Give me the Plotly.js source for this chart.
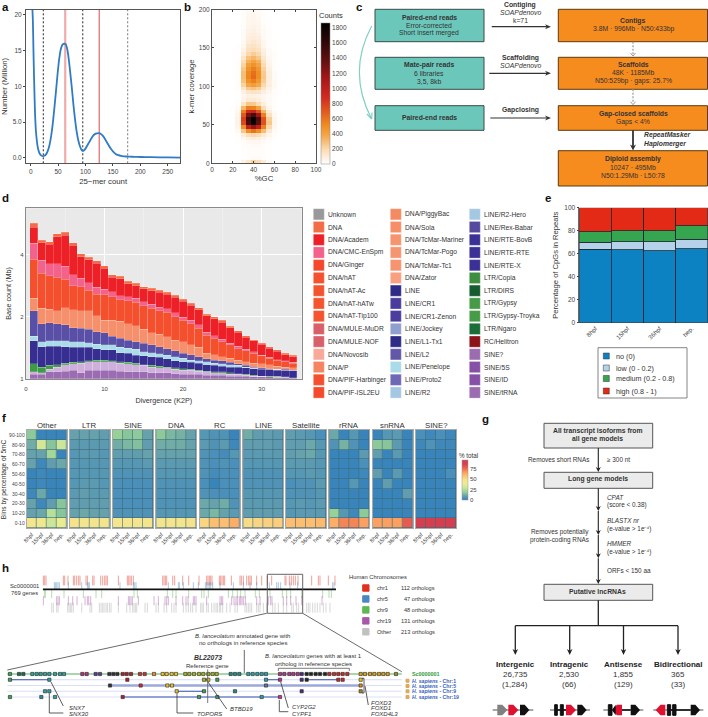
<!DOCTYPE html>
<html><head><meta charset="utf-8"><title>Genome assembly figure</title>
<script src="https://cdn.plot.ly/plotly-3.0.1.min.js"></script>
<style>html,body{margin:0;padding:0;background:#fff}#plot{width:708px;height:717px}</style></head>
<body><div id="plot"></div>
<script>
/* ---------- panel a ---------- */
const kmerCount=[3,4,5,6,7,8,9,10,12,14,16,18,20,22,25,28,31,34,37,40,43,46,49,52,55,58,60,62,63,64,66,68,70,72,75,78,81,84,87,90,93,95,97,100,103,106,109,112,115,118,121,124,126,128,131,134,137,140,143,146,150,155,160,165,170,175,180,190,200,220,250,280];
const kmerNumber=[20.9,19,15,11.5,8.5,6,4.4,3.3,1.9,1.1,0.65,0.42,0.3,0.25,0.3,0.5,0.95,1.7,2.9,4.6,6.8,9.2,11.7,13.8,15.2,15.8,15.9,15.95,15.9,15.85,15.4,14.6,13.4,12,9.8,7.4,5.3,3.6,2.4,1.6,1.1,1.0,1.05,1.3,1.7,2.1,2.5,2.9,3.2,3.35,3.42,3.45,3.42,3.35,3.15,2.85,2.45,2.05,1.65,1.3,0.9,0.55,0.38,0.28,0.23,0.2,0.18,0.15,0.13,0.1,0.07,0.05];
const kmerCutoffs=[23,95,177];
const kmerPeaks=[63,125];
/* ---------- panel b ---------- */
const gcBins=[20,25,30,35,40,45,50,55,60,65,70];
const covBins=[2.5,7.5,12.5,17.5,22.5,27.5,32.5,37.5,42.5,47.5,52.5,57.5,62.5,67.5,72.5,77.5,82.5,87.5,92.5,97.5,102.5,107.5,112.5,117.5,122.5,127.5,132.5,137.5,142.5,147.5,152.5,157.5,162.5,167.5,172.5,177.5,182.5,187.5,192.5,197.5];
const gcCounts=[
[0,5,60,120,220,180,100,30,5,0,0],[0,0,5,15,20,20,10,5,0,0,0],[0,0,5,10,15,15,10,5,2,0,0],[0,0,5,10,15,15,8,3,0,0,0],
[0,2,8,15,20,20,15,5,0,0,0],[0,3,15,30,40,40,25,10,2,0,0],[0,5,40,70,80,70,50,20,5,0,0],[0,12,90,170,200,170,110,50,10,2,0],
[0,30,260,500,600,500,300,110,25,3,0],[0,50,500,1000,1200,1000,560,200,40,5,0],[0,60,760,1500,1800,1400,730,260,45,8,0],[0,60,800,1550,1850,1450,720,240,45,8,0],
[0,50,700,1300,1500,1150,560,160,35,5,0],[0,35,550,900,950,720,320,90,20,3,0],[0,20,320,560,540,400,170,50,12,2,0],[0,8,140,260,250,180,80,30,8,0,0],
[0,3,60,110,110,90,50,25,8,2,0],[0,3,40,70,70,60,40,25,10,2,0],[0,5,70,130,150,130,80,40,15,3,0],[0,10,130,250,280,240,130,60,25,5,0],
[0,12,220,380,430,370,200,80,30,5,0],[0,15,280,480,550,450,240,85,30,5,0],[0,15,300,530,640,500,260,90,25,5,0],[0,15,300,520,620,500,250,80,20,3,0],
[0,12,260,480,560,460,220,70,15,2,0],[0,10,220,420,480,400,190,55,15,0,0],[0,8,180,340,400,340,150,45,10,0,0],[0,5,130,280,320,260,120,35,10,0,0],
[0,5,90,200,240,200,90,25,8,0,0],[0,3,60,160,180,150,70,20,5,0,0],[0,3,40,130,150,120,50,15,5,0,0],[0,2,30,100,120,100,40,12,3,0,0],
[0,2,25,80,100,80,30,10,2,0,0],[0,0,20,70,85,65,25,10,2,0,0],[0,0,20,60,70,55,20,8,0,0,0],[0,0,15,50,60,45,20,5,0,0,0],
[0,0,15,40,50,40,15,5,0,0,0],[0,0,12,40,45,35,12,3,0,0,0],[0,0,10,35,40,30,10,2,0,0,0],[0,0,10,30,35,25,10,0,0,0,0]];
/* ---------- panel d: cumulative stack tops in Mb ---------- */
const divergence=[1,2,3,4,5,6,7,8,9,10,11,12,13,14,15,16,17,18,19,20,21,22,23,24,25,26,27,28,29,30,31,32,33,34];
const topSineDark=[1.05,1.05,1.08,1.08,1.09,1.10,1.07,1.10,1.10,1.10,1.10,1.09,1.08,1.08,1.08,1.07,1.07,1.07,1.06,1.05,1.05,1.05,1.04,1.04,1.04,1.03,1.03,1.03,1.02,1.02,1.02,1.01,1.01,1.005];
const topSineLight=[1.08,1.07,1.11,1.14,1.17,1.18,1.19,1.21,1.21,1.21,1.21,1.19,1.18,1.17,1.16,1.14,1.13,1.13,1.11,1.10,1.10,1.09,1.08,1.07,1.07,1.05,1.05,1.04,1.03,1.03,1.02,1.02,1.02,1.01];
const topLtr=[1.18,1.14,1.16,1.17,1.19,1.20,1.21,1.22,1.23,1.23,1.22,1.21,1.20,1.19,1.17,1.16,1.15,1.14,1.13,1.12,1.11,1.10,1.09,1.08,1.08,1.07,1.06,1.05,1.04,1.03,1.03,1.03,1.02,1.01];
const topLineDark=[1.53,1.43,1.44,1.44,1.43,1.42,1.42,1.42,1.40,1.38,1.38,1.34,1.33,1.30,1.29,1.28,1.27,1.25,1.22,1.21,1.20,1.19,1.17,1.16,1.15,1.14,1.14,1.13,1.12,1.11,1.11,1.10,1.10,1.10];
const topPenelope=[1.61,1.51,1.53,1.53,1.53,1.51,1.51,1.50,1.47,1.46,1.46,1.42,1.41,1.39,1.35,1.34,1.32,1.30,1.28,1.26,1.23,1.22,1.21,1.19,1.18,1.17,1.16,1.14,1.13,1.12,1.11,1.11,1.10,1.10];
const topLineMid=[2.14,1.85,1.87,1.85,1.83,1.77,1.76,1.74,1.69,1.67,1.61,1.57,1.54,1.51,1.49,1.46,1.43,1.40,1.37,1.33,1.31,1.28,1.25,1.23,1.22,1.20,1.18,1.16,1.14,1.13,1.12,1.11,1.11,1.10];
const topTcMar=[2.46,2.20,2.18,2.14,2.22,2.16,2.14,2.14,2.02,1.93,1.92,1.90,1.85,1.81,1.74,1.67,1.65,1.60,1.54,1.51,1.46,1.42,1.33,1.31,1.28,1.26,1.23,1.21,1.19,1.18,1.17,1.15,1.14,1.13];
const topHat=[3.81,3.26,3.17,3.12,3.05,2.83,2.81,2.70,2.58,2.56,2.51,2.42,2.39,2.35,2.27,2.20,2.14,2.10,2.00,1.92,1.85,1.76,1.63,1.57,1.51,1.46,1.40,1.37,1.33,1.29,1.26,1.23,1.21,1.19];
const topCmc=[4.56,3.78,3.62,3.62,3.53,3.20,3.08,2.93,2.78,2.72,2.65,2.54,2.50,2.46,2.37,2.30,2.23,2.19,2.09,1.99,1.92,1.83,1.68,1.62,1.56,1.49,1.44,1.39,1.35,1.30,1.27,1.24,1.22,1.20];
const topAcadem=[5.45,4.58,4.50,4.90,5.00,4.45,3.93,3.80,3.64,3.45,3.12,3.07,2.90,2.84,2.74,2.68,2.64,2.57,2.49,2.38,2.28,2.17,2.02,1.96,1.88,1.77,1.68,1.59,1.53,1.47,1.41,1.36,1.31,1.28];
const topDna=[5.71,4.73,4.65,5.07,5.16,4.59,4.05,3.90,3.74,3.54,3.20,3.15,2.98,2.91,2.81,2.75,2.70,2.63,2.55,2.43,2.33,2.22,2.06,2.00,1.92,1.80,1.71,1.62,1.55,1.49,1.43,1.38,1.33,1.30];
const repeatGroups=['SINE/5S','SINE/ID','LTR/Gypsy','LINE/CR1','LINE/Penelope','LINE/L2','DNA/TcMar-Tc1','DNA/hAT','DNA/CMC-EnSpm','DNA/Academ','DNA'];
const repeatClasses=['Unknown','DNA','DNA/Academ','DNA/CMC-EnSpm','DNA/Ginger','DNA/hAT','DNA/hAT-Ac','DNA/hAT-hATw','DNA/hAT-Tip100','DNA/MULE-MuDR','DNA/MULE-NOF','DNA/Novosib','DNA/P','DNA/PIF-Harbinger','DNA/PIF-ISL2EU','DNA/PiggyBac','DNA/Sola','DNA/TcMar-Mariner','DNA/TcMar-Pogo','DNA/TcMar-Tc1','DNA/Zator','LINE','LINE/CR1','LINE/CR1-Zenon','LINE/Jockey','LINE/L1-Tx1','LINE/L2','LINE/Penelope','LINE/Proto2','LINE/R2','LINE/R2-Hero','LINE/Rex-Babar','LINE/RTE-BovB','LINE/RTE-RTE','LINE/RTE-X','LTR/Copia','LTR/DIRS','LTR/Gypsy','LTR/Gypsy-Troyka','LTR/Ngaro','RC/Helitron','SINE?','SINE/5S','SINE/ID','SINE/tRNA'];
const repeatColors=['#999999','#f46c45','#ee2027','#f2628a','#f4472c','#f4522f','#f4532f','#f4552f','#f4552f','#d8606a','#d8606a','#f8a99a','#f58560','#f44f2e','#f4492c','#f58a62','#f68f68','#f69470','#f69470','#f69470','#f8a080','#2d2b85','#4b3d9e','#4b3d9e','#8f9fd0','#2d2b85','#6358a8','#aadbe8','#6f68b4','#a5c8e2','#a5c8e2','#5549a0','#3a3095','#3a3095','#3a3095','#3e8e41','#165c2e','#469c46','#469c46','#1c6e38','#8c1418','#9b6cb0','#8650a6','#8650a6','#9b6cb0'];
/* ---------- panel e ---------- */
const stages=['8hpf','15hpf','36hpf','hep.'];
const cpgNo=[64,63.5,62.5,64.5];
const cpgLow=[6,7,8,8];
const cpgMedium=[9,9.5,9.5,12];
const cpgHigh=[21,20,20,15.5];
const cpgLegend=['no (0)','low (0 - 0.2)','medium (0.2 - 0.8)','high (0.8 - 1)'];
const cpgColors=['#0c82c3','#b6d2ea','#35a550','#e32a17'];
/* ---------- panel f ---------- */
const bins5mC=['0-10','10-20','20-30','30-40','40-50','50-60','60-70','70-80','80-90','90-100'];
const facetNames=['Other','LTR','SINE','DNA','RC','LINE','Satellite','rRNA','snRNA','SINE?'];
const fOther=[[45,42,30,38],[10,11,26,17],[10,3,9,17],[3,11,2,2],[2,3,2,2],[2,3,2,2],[10,3,9,11],[10,10,22,2],[12,32,17,30],[18,2,2,2]];
const fLtr=[[48,47,47,47],[10,11,10,10],[9,9,9,9],[8,9,8,8],[7,8,8,7],[7,7,7,7],[7,7,7,7],[7,8,8,7],[8,8,8,8],[10,10,10,9]];
const fSine=[[46,46,46,47],[6,6,6,6],[5,5,5,5],[5,5,5,5],[5,5,5,5],[6,6,6,6],[7,7,7,8],[9,9,9,10],[12,14,16,9],[20,17,18,10]];
const fDna=[[47,47,47,48],[7,7,7,7],[6,6,6,6],[6,6,6,6],[6,6,6,6],[7,7,7,7],[8,8,8,8],[10,10,10,10],[12,12,12,10],[18,14,13,10]];
const fRc=[[52,58,58,62],[11,14,10,8],[11,10,12,6],[6,5,5,5],[5,2,5,5],[6,4,5,5],[6,5,6,5],[6,5,4,7],[8,6,8,3],[7,6,6,2]];
const fLine=[[50,52,53,54],[9,9,9,9],[8,8,8,8],[7,7,7,7],[6,6,6,6],[6,6,6,6],[7,7,7,7],[8,8,8,8],[9,9,9,8],[12,9,9,8]];
const fSatellite=[[58,58,58,59],[7,8,8,8],[7,8,7,8],[6,6,6,7],[5,6,6,8],[7,7,8,7],[8,8,8,7],[9,10,11,7],[9,9,11,7],[9,8,7,5]];
const fRrna=[[62,70,70,65],[20,7,3,18],[2,2,2,2],[2,2,2,2],[2,2,7,2],[2,2,2,3],[2,2,2,5],[2,2,2,8],[6,13,6,2],[11,2,7,2]];
const fSnrna=[[65,65,65,78],[2,2,2,2],[2,2,2,2],[2,2,2,9],[2,9,2,2],[9,2,8,2],[2,2,2,2],[9,2,8,2],[18,17,8,2],[2,7,8,2]];
const fSineQ=[[88,88,88,88],[2,2,2,2],[2,2,2,2],[2,2,2,2],[2,2,2,2],[2,2,2,5],[2,2,2,2],[2,2,2,2],[3,6,3,3],[5,3,5,3]];
const facetValues=[fOther,fLtr,fSine,fDna,fRc,fLine,fSatellite,fRrna,fSnrna,fSineQ];
/* ---------- panel h ---------- */
const rugChr1=[40,44,48,100,104,114,130,134,140,146,150,168,172,188,192,212,218,224,228,232,265,292,296,300,304,310,398,402,406,410,428,434,458,476,507,530,534,538,542,546,568,572,576,580,584,604,630,634,640,650,656,660,664,680,695,712,725,765,768,778,784,790,796,804,845,865,870,895,915];
const rugChr5=[73,76,80,84,88,115,155,172,175,178,270,310,314,318,415,445,448,460,490,505,526,530,534,538,542,548,570,610,640,660,680,718,740,745,752,780,803,908,912];
const rugChr9=[43,46,65,102,160,198,215,312,322,412,428,438,476,515,522,535,595,608,622,632,645,676,688,720,757,770,782,815,878,897,904];
const rugChr19=[40,80,84,88,115,128,141,165,172,176,182,265,295,299,303,307,325,372,385,405,410,415,438,458,468,474,490,494,498,530,570,574,578,605,612,618,622,628,632,636,640,646,680,690,715,722,726,760,770,782,798,815,876];
const rugOther=[65,70,80,84,113,117,121,125,130,155,180,185,208,213,218,222,228,232,238,243,265,290,300,308,312,316,320,345,352,378,385,402,410,425,432,438,460,468,475,482,488,498,512,516,520,530,535,545,552,558,562,568,572,578,590,600,615,622,645,650,655,660,665,680,685,690,700,710,728,735,745,760,770,785,790,800,806,830,835,840,848,855,862,870,880,888,900];
const orthologLegend=[['chr1','112 orthologs','#e0301e'],['chr5','47 orthologs','#4a88c0'],['chr9','48 orthologs','#5fb850'],['chr19','131 orthologs','#a858a8'],['Other','213 orthologs','#c0c0c0']];
const scGeneGroups=[['#3aa655',[30]],['#1f6b4f',[57,70]],['#2aa6a0',[97,110,122,135,148,165,180,192]],['#b8327f',[247,260]],['#5b3a9a',[287,300]],['#333333',[328,340,352]],['#b0202c',[368,380,393]],['#d32f2f',[420,434]],['#f08a24',[462]],['#f2c71b',[488,500,515,528]],['#a6b81f',[556,568,582,597,610,625,638,650]],['#1f8a8a',[692,705,718]],['#29a3b0',[745,758,772,785,798]],['#b8328f',[840,853,868,880,893]],['#4a2a8f',[905]],['#222222',[920,933,947,960,975]],['#d62728',[988,1002,1015,1028,1042]],['#e0a010',[1082,1095,1110,1123,1137,1150,1163]],['#8a9a20',[1188]]];
const chr1Genes=[[30,'#3aa655'],[148,'#29a3b0'],[382,'#b0202c'],[612,'#a6b81f'],[625,'#f2c71b'],[652,'#3aa655'],[798,'#29a3b0'],[840,'#b8328f'],[905,'#4a2a8f'],[920,'#222222'],[1015,'#d62728'],[1028,'#d62728'],[1082,'#f2c71b']];
const chr5Genes=[[330,'#333333'],[422,'#d32f2f'],[502,'#f2c71b'],[516,'#f2c71b'],[798,'#5a7a9a'],[1082,'#e08a10']];
const chr9Genes=[[135,'#2aa6a0'],[148,'#2aa6a0'],[530,'#f2c71b'],[612,'#3aa655'],[705,'#1f8a8a'],[905,'#4a2a8f'],[1082,'#b08020']];
const chr19Genes=[[30,'#3aa655'],[124,'#2a8aa0'],[165,'#2aa6a0'],[368,'#b0202c'],[597,'#3aa655'],[652,'#3aa655'],[785,'#29a3b0'],[840,'#d0308f']];
const synLinks=[[1,30,148],[1,612,625],[1,798,840],[1,920,1015],[3,530,612],[4,368,840]];

/* ---------- helpers (page pixels to paper fractions) ---------- */
const W=708,H=717,FONT='"Liberation Sans",Arial,sans-serif';
const X=v=>v/W, Y=v=>1-v/H;
const dx=(a,b)=>[a/W,b/W], dy=(t,b)=>[1-b/H,1-t/H];
const shapes=[],annotations=[];
const pp={xref:'paper',yref:'paper'};
function box(x0,y0,x1,y1,fill,stroke,w){shapes.push({...pp,type:'rect',x0:X(x0),x1:X(x1),y0:Y(y0),y1:Y(y1),fillcolor:fill,line:{color:stroke||fill,width:w===undefined?1:w}});}
function seg(x0,y0,x1,y1,c,w,dash){shapes.push({...pp,type:'line',x0:X(x0),x1:X(x1),y0:Y(y0),y1:Y(y1),line:{color:c,width:w||1,dash:dash||'solid'}});}
function poly(pts,fill){shapes.push({...pp,type:'path',path:'M '+pts.map(p=>X(p[0])+' '+Y(p[1])).join(' L ')+' Z',fillcolor:fill,line:{width:0}});}
function arrow(x0,y0,x1,y1,c,w,hl,hw){
  const L=Math.hypot(x1-x0,y1-y0),ux=(x1-x0)/L,uy=(y1-y0)/L;
  seg(x0,y0,x1-ux*hl*.6,y1-uy*hl*.6,c,w);
  poly([[x1,y1],[x1-ux*hl-uy*hw,y1-uy*hl+ux*hw],[x1-ux*hl*.7,y1-uy*hl*.7],[x1-ux*hl+uy*hw,y1-uy*hl-ux*hw]],c);
}
function T(x,y,text,o){o=o||{};
  annotations.push({...pp,x:X(x),y:Y(y),text,showarrow:false,xanchor:o.a||'center',yanchor:'middle',textangle:o.r||0,borderpad:0,
    font:{family:FONT,size:o.s||6.8,color:o.c||'#333'}});}
function pent(x0,x1,yc,h,c,left){const t=(x1-x0)*.5;
  poly(left?[[x0,yc],[x0+t,yc-h/2],[x1,yc-h/2],[x1,yc+h/2],[x0+t,yc+h/2]]:[[x0,yc-h/2],[x1-t,yc-h/2],[x1,yc],[x1-t,yc+h/2],[x0,yc+h/2]],c);}

/* panel letters */
[['a',5,7],['b',187,7],['c',359,7],['d',5,198],['e',548,198],['f',4,418],['g',485,419],['h',5,568]].forEach(p=>T(p[1],p[2],'<b>'+p[0]+'</b>',{s:11.5,c:'#111'}));

const traces=[];const layout={width:W,height:H,margin:{l:0,r:0,t:0,b:0,autoexpand:false},paper_bgcolor:'#fff',plot_bgcolor:'rgba(0,0,0,0)',showlegend:false,barmode:'stack',bargap:0,font:{family:FONT,size:7,color:'#333'}};
const tf=s=>({family:FONT,size:s,color:'#444'});

/* ---------- a ---------- */
layout.xaxis={domain:dx(26,180.3),range:[-8.6,273],tickvals:[0,50,100,150,200,250],ticks:'outside',ticklen:2,showgrid:false,zeroline:false,showline:true,mirror:true,linecolor:'#555',linewidth:1,tickfont:tf(6.5),anchor:'y',title:{text:'25−mer count',font:{family:FONT,size:7.8,color:'#333'},standoff:4}};
layout.yaxis={domain:dy(9.5,163.3),range:[-0.75,20.7],tickvals:[0,5,10,15,20],ticktext:['0.0','5.0','10','15','20'],ticks:'outside',ticklen:2,showgrid:false,zeroline:false,showline:true,mirror:true,linecolor:'#555',linewidth:1,tickfont:tf(6.5),anchor:'x',title:{text:'Number (Million)',font:{family:FONT,size:7.8,color:'#333'},standoff:5}};
kmerCutoffs.forEach((c,i)=>shapes.push({xref:'x',yref:'y domain',type:'line',x0:c,x1:c,y0:0,y1:1,layer:'below',line:{color:i==2?'#777':'#222',width:1,dash:'2px,2px'}}));
shapes.push({xref:'x',yref:'y domain',type:'line',x0:kmerPeaks[0],x1:kmerPeaks[0],y0:0,y1:1,layer:'below',line:{color:'#f0aaaa',width:2.2}});
shapes.push({xref:'x',yref:'y domain',type:'line',x0:kmerPeaks[1],x1:kmerPeaks[1],y0:0,y1:1,layer:'below',line:{color:'#d94a4a',width:1}});
traces.push({type:'scatter',mode:'lines',x:kmerCount,y:kmerNumber,xaxis:'x',yaxis:'y',line:{color:'#2f7bc4',width:1.8,shape:'spline',smoothing:.6},cliponaxis:true,hoverinfo:'skip'});

/* ---------- b ---------- */
layout.xaxis2={domain:dx(212,316),range:[0,100],tickvals:[0,20,40,60,80,100],ticks:'inside',ticklen:2,mirror:'ticks',showline:true,linecolor:'#555',linewidth:1,showgrid:false,zeroline:false,tickfont:tf(6.5),anchor:'y2',title:{text:'%GC',font:{family:FONT,size:7.8,color:'#333'},standoff:3}};
layout.yaxis2={domain:dy(9.5,163.3),range:[0,200],tickvals:[0,50,100,150,200],ticks:'inside',ticklen:2,mirror:'ticks',showline:true,linecolor:'#555',linewidth:1,showgrid:false,zeroline:false,tickfont:tf(6.5),anchor:'x2',title:{text:'k-mer coverage',font:{family:FONT,size:7.8,color:'#333'},standoff:3}};
traces.push({type:'heatmap',x:gcBins,y:covBins,z:gcCounts,xaxis:'x2',yaxis:'y2',zmin:0,zmax:1870,hoverinfo:'skip',zsmooth:false,
 colorscale:[[0,'#ffffff'],[0.04,'#fdf0e2'],[0.1,'#fbdcb4'],[0.2,'#f4a84a'],[0.28,'#ee8a1e'],[0.37,'#e25a1e'],[0.47,'#d42a20'],[0.6,'#a81818'],[0.75,'#5a1010'],[0.9,'#220606'],[1,'#000000']],
 colorbar:{x:X(321),xanchor:'left',y:Y(22.7),yanchor:'top',len:141.3,lenmode:'pixels',thickness:9,thicknessmode:'pixels',xpad:0,ypad:0,tickvals:[0,200,400,600,800,1000,1200,1400,1600,1800],ticks:'',tickfont:tf(6.5),outlinecolor:'#888',outlinewidth:.5}});
T(331,16,'Counts',{s:7.5});

/* ---------- c ---------- */
const teal='#6cc7bb',orange='#f68b1e';
[[9.3,41.7],[57.3,89.3],[105.7,130.3]].forEach(b=>box(375,b[0],484,b[1],teal,'#3a4a48',1));
[[9.3,41.7],[57.3,89.3],[105.7,130.3],[150.7,186]].forEach(b=>box(558.3,b[0],707.5,b[1],orange,'#5a3a10',1));
const cTeal=429.3,cOr=633,cMid=520.3;
T(cTeal,17,'<b>Paired-end reads</b>');T(cTeal,25,'Error-corrected');T(cTeal,33.3,'Short insert merged');
T(cTeal,65,'<b>Mate-pair reads</b>');T(cTeal,73.3,'6 libraries');T(cTeal,81.3,'3,5, 8kb');
T(cTeal,117.3,'<b>Paired-end reads</b>');
T(cOr,21.3,'<b>Contigs</b>');T(cOr,29.3,'3.8M · 996Mb · N50:433bp');
T(cOr,65,'<b>Scaffolds</b>');T(cOr,73,'48K · 1185Mb');T(cOr,81,'N50:529bp · gaps: 25.7%');
T(cOr,113.7,'<b>Gap-closed scaffolds</b>');T(cOr,122,'Gaps &lt; 4%');
T(cOr,159.3,'<b>Diploid assembly</b>');T(cOr,167.7,'10247 · 495Mb');T(cOr,175.7,'N50:1.29Mb · L50:78');
T(cMid,4.8,'<b>Contiging</b>');T(cMid,12.3,'<i>SOAPdenovo</i>');T(cMid,20.3,'k=71');
T(cMid,58,'<b>Scaffolding</b>');T(cMid,65.7,'<i>SOAPdenovo</i>');T(cMid,110,'<b>Gapclosing</b>');
T(643.3,135.3,'<b><i>RepeatMasker</i></b>',{a:'left'});T(643.3,143.7,'<b><i>Haplomerger</i></b>',{a:'left'});
arrow(491.7,26.7,551,26.7,'#333',1.2,6,2.5);arrow(489.3,73.3,551,73.3,'#333',1.2,6,2.5);arrow(490.3,118,551,118,'#333',1.2,6,2.5);
[[41.7,57],[89.3,105.7]].forEach(a=>{seg(cOr,a[0],cOr,a[1]-3,'#999',1.2,'2px,1.5px');seg(cOr-2.5,a[1]-4,cOr,a[1]-1,'#999',1);seg(cOr+2.5,a[1]-4,cOr,a[1]-1,'#999',1);});
arrow(cOr,130.3,cOr,150.5,'#333',1.8,6,3);
shapes.push({...pp,type:'path',path:`M ${X(371.7)} ${Y(26)} Q ${X(347)} ${Y(72)} ${X(371.7)} ${Y(119)}`,line:{color:'#7dd0c5',width:1.2}});
seg(371.7,119,367,114,'#7dd0c5',1.2);seg(371.7,119,372,112.5,'#7dd0c5',1.2);

/* ---------- d ---------- */
layout.xaxis3={domain:dx(26,301.7),range:[0,35.1],tickvals:[0,10,20,30],ticks:'outside',ticklen:4,tickcolor:'rgba(0,0,0,0)',gridcolor:'#ffffff',gridwidth:1,zeroline:false,showline:true,mirror:true,linecolor:'#8a8a8a',linewidth:1.2,tickfont:tf(6),anchor:'y3',minor:{dtick:5,showgrid:true,gridcolor:'#f4f4f4',gridwidth:.6},title:{text:'Divergence (K2P)',font:{family:FONT,size:7.2,color:'#333'},standoff:6}};
layout.yaxis3={domain:dy(208.3,378.7),type:'log',range:[0,Math.log10(6.75)],tickvals:[1,2,4],ticktext:['1','2','4'],ticks:'',gridcolor:'#ffffff',gridwidth:1,zeroline:false,showline:true,mirror:true,linecolor:'#8a8a8a',linewidth:1.2,tickfont:tf(6),anchor:'x3',title:{text:'Base count (Mb)',font:{family:FONT,size:7.2,color:'#333'},standoff:7}};
shapes.push({xref:'x3 domain',yref:'y3 domain',type:'rect',x0:0,x1:1,y0:0,y1:1,layer:'below',fillcolor:'#e9e9e9',line:{width:0}});
const stackTops=[topSineDark,topSineLight,topLtr,topLineDark,topPenelope,topLineMid,topTcMar,topHat,topCmc,topAcadem,topDna];
const stackColors=['#9c6cb2','#cfb0dc','#3f9c46','#372e92','#aadbe8','#5a4fa6','#f6906c','#f4502e','#f2628a','#ee2027','#f46c45'];
stackTops.forEach((top,i)=>{const below=i?stackTops[i-1]:top.map(()=>0);
  traces.push({type:'bar',x:divergence,y:top.map((v,k)=>Math.max(v-below[k],0)),name:repeatGroups[i],xaxis:'x3',yaxis:'y3',offsetgroup:'d',width:1,marker:{color:stackColors[i],line:{color:'rgba(255,255,255,0.35)',width:.5}},hoverinfo:'skip'});});
const legendCols=[[313.3,326.7],[390.3,403.7],[469.3,482.7]];
repeatClasses.forEach((n,i)=>{const c=legendCols[Math.floor(i/15)],yy=214.3+(i%15)*12.73;
  box(c[0],yy-5.6,c[0]+11,yy+5.6,repeatColors[i],'rgba(255,255,255,.6)',.5);T(c[1],yy,n,{a:'left',s:6.7});});

/* ---------- e ---------- */
layout.xaxis4={domain:dx(579.3,707.8),type:'category',categoryorder:'array',categoryarray:stages,tickangle:-45,ticks:'',showgrid:false,zeroline:false,showline:false,tickfont:tf(6.2),anchor:'y4'};
layout.yaxis4={domain:dy(207.7,322.7),range:[0,100],tickvals:[0,20,40,60,80,100],ticks:'outside',ticklen:2,showgrid:false,zeroline:false,showline:true,linecolor:'#444',linewidth:.8,tickfont:tf(6.5),anchor:'x4',title:{text:'Percentage of CpGs in Repeats',font:{family:FONT,size:7.6,color:'#333'},standoff:4}};
[cpgNo,cpgLow,cpgMedium,cpgHigh].forEach((v,i)=>traces.push({type:'bar',x:stages,y:v,name:cpgLegend[i],xaxis:'x4',yaxis:'y4',width:1,marker:{color:cpgColors[i],line:{color:'#1c2a30',width:.8}},hoverinfo:'skip'}));
box(598,347.7,687,398,'#ffffff','#666',.8);
[356,368,378.5,391].forEach((yy,i)=>{box(603.3,yy-3,609.3,yy+3,cpgColors[i],'#333',.5);T(614.5,yy,cpgLegend[i],{a:'left',s:7.2});});

/* ---------- f ---------- */
const facetLeft=[26.7,69.7,113,156.3,199.7,243.3,286,329.3,372.7,416];
layout.coloraxis={cmin:0,cmax:95,colorscale:[[0,'#2d7dbb'],[0.05,'#4a8fbb'],[0.1,'#649fad'],[0.15,'#7cb8a0'],[0.2,'#93cf97'],[0.3,'#c5e59a'],[0.4,'#ebeb90'],[0.5,'#f6e48e'],[0.6,'#fdc274'],[0.7,'#fb9a5c'],[0.78,'#ee6a50'],[0.9,'#d53e4f'],[1,'#d53e4f']],
  colorbar:{x:X(461.7),xanchor:'left',y:Y(460),yanchor:'top',len:40,lenmode:'pixels',thickness:6.3,thicknessmode:'pixels',xpad:0,ypad:0,tickvals:[0,25,50,75],ticks:'',tickfont:tf(6),outlinecolor:'#999',outlinewidth:.5}};
T(458,455.7,'% total',{a:'left',s:6.3});
facetNames.forEach((n,i)=>{const k=5+i,l=facetLeft[i];
  layout['xaxis'+k]={domain:dx(l,l+40),type:'category',categoryorder:'array',categoryarray:stages,tickangle:-45,ticks:'',showgrid:false,zeroline:false,showline:true,mirror:true,linecolor:'#aaa',linewidth:1,tickfont:tf(5.6),anchor:'y'+k};
  layout['yaxis'+k]={domain:dy(430,528.3),type:'category',categoryorder:'array',categoryarray:bins5mC,ticks:'',showticklabels:i===0,showgrid:false,zeroline:false,showline:true,mirror:true,linecolor:'#aaa',linewidth:1,tickfont:tf(5),anchor:'x'+k};
  shapes.push({xref:'x'+k+' domain',yref:'y'+k+' domain',type:'rect',x0:0,x1:1,y0:0,y1:1,layer:'below',fillcolor:'#3c6a78',line:{width:0}});
  traces.push({type:'heatmap',x:stages,y:bins5mC,z:facetValues[i],xaxis:'x'+k,yaxis:'y'+k,coloraxis:'coloraxis',xgap:.6,ygap:.6,hoverinfo:'skip'});
  T(l+20,425,n,{s:7.8});
});
T(4.2,479,'Bins by percentage of 5mC',{r:-90,s:6.6});

/* ---------- g ---------- */
const gCx=598.3,gRight=589.7,gLeft=606;
[[423.3,448],[472.3,488.3],[584.3,600.3]].forEach(b=>box(544,b[0],652.7,b[1],'#ebebeb','#555',1));
T(597.7,431,'<b>All transcript isoforms from</b>');T(597.7,439.3,'<b>all gene models</b>');T(597.7,479.3,'<b>Long gene models</b>');T(597.7,591.7,'<b>Putative lncRNAs</b>');
arrow(gCx,448,gCx,472,'#222',1.1,5,2.5);
arrow(gCx,488.3,gCx,511,'#222',1.1,5,2.5);arrow(gCx,511,gCx,535,'#222',1.1,5,2.5);arrow(gCx,535,gCx,558.3,'#222',1.1,5,2.5);arrow(gCx,558.3,gCx,584,'#222',1.1,5,2.5);
T(gRight,459.3,'Removes short RNAs',{a:'right',s:6.4});T(gLeft,459.3,'≥ 300 nt',{a:'left',s:6.4});
T(gRight,532,'Removes potentially',{a:'right',s:6.4});T(gRight,540,'protein-coding RNAs',{a:'right',s:6.4});
T(gLeft,497.3,'<i>CPAT</i>',{a:'left',s:6.4});T(gLeft,505.3,'(score &lt; 0.38)',{a:'left',s:6.4});
T(gLeft,520,'<i>BLASTX nr</i>',{a:'left',s:6.4});T(gLeft,528.7,'(e-value &gt; 1e⁻⁴)',{a:'left',s:6.4});
T(gLeft,543.3,'<i>HMMER</i>',{a:'left',s:6.4});T(gLeft,551.7,'(e-value &gt; 1e⁻⁴)',{a:'left',s:6.4});
T(gLeft,570.3,'ORFs &lt; 150 aa',{a:'left',s:6.4});
seg(gCx,600.3,gCx,625.7,'#222',1.3);seg(515.3,625.7,678,625.7,'#222',1.3);
const gCols=[[515.3,'Intergenic','26,735','(1,284)'],[569.7,'Intragenic','2,530','(66)'],[623.5,'Antisense','1,855','(129)'],[678,'Bidirectional','365','(33)']];
gCols.forEach(c=>{arrow(c[0],625.7,c[0],655,'#222',1.3,6,2.8);T(c[0],664.3,'<b>'+c[1]+'</b>',{s:8,c:'#222'});T(c[0],674.3,c[2],{s:8});T(c[0],684.3,c[3],{s:8});});
const iy=710,ih=10.6,ix=z=>480+z/3,icR='#e01030',icK='#111';
seg(ix(38),iy,ix(160),iy,'#222',.8);pent(ix(52),ix(82),iy,ih,'#808080');pent(ix(85),ix(115),iy,ih,icR);pent(ix(120),ix(148),iy,ih,icK);
seg(ix(210),iy,ix(330),iy,'#222',.8);box(ix(224),iy-ih/2,ix(232),iy+ih/2,icK);box(ix(241),iy-ih/2,ix(250),iy+ih/2,icK);seg(ix(225),iy,ix(258),iy,icK,1.6);pent(ix(258),ix(288),iy,ih,icR);pent(ix(292),ix(320),iy,ih,icK);
seg(ix(370),iy,ix(490),iy,'#222',.8);box(ix(385),iy-ih/2,ix(396),iy+ih/2,icK);pent(ix(396),ix(426),iy,ih,icR,true);poly([[ix(396),iy],[ix(407),iy-ih/2],[ix(407),iy+ih/2]],icK);seg(ix(426),iy,ix(452),iy,icK,1.6);pent(ix(452),ix(480),iy,ih,icK);
seg(ix(520),iy,ix(670),iy,'#222',.8);pent(ix(527),ix(556),iy,ih,icR,true);box(ix(562),iy-ih/2,ix(572),iy+ih/2,icK);box(ix(578),iy-ih/2,ix(588),iy+ih/2,icK);seg(ix(562),iy,ix(632),iy,icK,1.6);pent(ix(632),ix(660),iy,ih,icK);

/* ---------- h: rug ---------- */
layout.xaxis15={domain:dx(42.7,336),range:[38,918],visible:false,anchor:'y15'};
layout.yaxis15={domain:dy(574,614),range:[614,574],visible:false,anchor:'x15'};
const rugRows=[[rugChr1,580.5,7,'#e0301e'],[rugChr5,585.7,5,'#4a88c0'],[rugChr9,593.5,6.5,'#5fb850'],[rugChr19,600.7,6.5,'#a858a8'],[rugOther,607.7,7,'#a9a9a9']];
rugRows.forEach(r=>traces.push({type:'scatter',mode:'markers',x:r[0],y:r[0].map(()=>r[1]),xaxis:'x15',yaxis:'y15',cliponaxis:false,hoverinfo:'skip',opacity:.5,marker:{symbol:'line-ns',size:r[2],line:{color:r[3],width:.9}}}));
traces.push({type:'scatter',mode:'lines',x:[38,918],y:[589.3,589.3],xaxis:'x15',yaxis:'y15',line:{color:'#111',width:1.8},hoverinfo:'skip'});
box(267.3,574.3,302.7,613.3,'rgba(0,0,0,0)','#555',.9);
T(24,586,'Sc0000001',{s:5.8});T(24,593.3,'769 genes',{s:5.8});
T(348,577,'Human Chromosomes',{a:'left',s:5.8});
orthologLegend.forEach((o,i)=>{const yy=588+i*10.95;box(362.7,yy-3.2,369,yy+3.2,o[2]);T(376,yy,o[0],{a:'left',s:5.6});T(435.7,yy,o[1],{a:'right',s:5.6});});
seg(266.7,613.3,7.3,670,'#444',.8);seg(302.7,613.3,401.7,671.7,'#444',.8);

/* ---------- h: detail tracks ---------- */
layout.xaxis16={domain:dx(0,472),range:[0,1416],visible:false,anchor:'y16'};
layout.yaxis16={domain:dy(668,703),range:[5.04,-1.04],visible:false,anchor:'x16'};
[1,2,3,4].forEach(r=>traces.push({type:'scatter',mode:'lines',x:[22,1205],y:[r,r],xaxis:'x16',yaxis:'y16',line:{color:'rgba(150,160,220,.35)',width:1},hoverinfo:'skip'}));
traces.push({type:'scatter',mode:'lines',x:[22,1205],y:[0,0],xaxis:'x16',yaxis:'y16',line:{color:'#55ad5e',width:1.2},hoverinfo:'skip'});
traces.push({type:'scatter',mode:'lines',x:[330,1082],y:[2,2],xaxis:'x16',yaxis:'y16',line:{color:'#9ba8dc',width:2.4},hoverinfo:'skip'});
synLinks.forEach(l=>traces.push({type:'scatter',mode:'lines',x:[l[1],l[2]],y:[l[0],l[0]],xaxis:'x16',yaxis:'y16',line:{color:'#3a55b0',width:1},hoverinfo:'skip'}));
const scX=scGeneGroups.flatMap(g=>g[1]),scC=scGeneGroups.flatMap(g=>g[1].map(()=>g[0]));
const geneMark=(x,row,c)=>({type:'scatter',mode:'markers',x,y:x.map(()=>row),xaxis:'x16',yaxis:'y16',cliponaxis:false,hoverinfo:'skip',marker:{symbol:'square',size:3.2,color:c,line:{color:'#222',width:.6}}});
traces.push(geneMark(scX,0,scC));
[chr1Genes,chr5Genes,chr9Genes,chr19Genes].forEach((g,i)=>traces.push(geneMark(g.map(v=>v[0]),i+1,g.map(v=>v[1]))));
T(411,673.5,'<b>Sc0000001</b>',{a:'left',s:5.4,c:'#2f9a3c'});
[['Chr:1',680.7],['Chr:5',686],['Chr:9',691.3],['Chr:19',697]].forEach(l=>{box(406,l[1]-1.5,409,l[1]+1.5,'#e0a85a');T(411,l[1],'<b><i>H. sapiens</i> - '+l[0]+'</b>',{a:'left',s:5.2,c:'#3a5fc0'});});
T(243,635.7,'<i>B. lanceolatum</i> annotated gene with',{s:6});T(243,643.3,'no orthologs in reference species',{s:6});
T(207.7,657.7,'<b><i>BL22073</i></b>',{s:6.8});T(207.7,665.7,'Reference gene',{s:6});
T(313.3,656.3,'<i>B. lanceolatum</i> genes with at least 1',{s:6});T(313.3,664,'ortholog in reference species',{s:6});
seg(278.3,668.3,349.3,668.3,'#444',.7);seg(278.3,668.3,278.3,671,'#444',.7);seg(349.3,668.3,349.3,671,'#444',.7);
seg(207.7,669.3,207.7,703,'#555',.8);seg(244.3,650,244.3,673,'#444',.8);
const cl='#333',cw=.8;
seg(51,682,63.3,706,cl,cw);seg(49.3,693.3,49.3,713,cl,cw);seg(49.3,713,63.3,713,cl,cw);
seg(177,693.3,177,713,cl,cw);seg(177,713,193.3,713,cl,cw);
seg(208,682,226.7,709,cl,cw);seg(280.7,682,288.3,708,cl,cw);seg(279.3,700,279.3,711.7,cl,cw);seg(279.3,711.7,288.3,711.7,cl,cw);
seg(364,678.3,364,693,cl,cw);seg(362,678.3,364,678.3,cl,cw);seg(362,693,364,693,cl,cw);seg(365,686,368.3,705,cl,cw);
[['SNX7',68,707.7],['SNX30',68,713.5],['TOPORS',196,713.5],['BTBD19',229,709.3],['CYP2G2',291,707.3],['CYPF1',291,713.5],['FOXD3',370,702.7],['FOXD1',370,708],['FOXD4L3',370,713.5]].forEach(l=>T(l[1],l[2],'<i>'+l[0]+'</i>',{a:'left',s:6}));

layout.shapes=shapes;layout.annotations=annotations;
Plotly.newPlot('plot',traces,layout,{staticPlot:true,displayModeBar:false});
</script></body></html>
